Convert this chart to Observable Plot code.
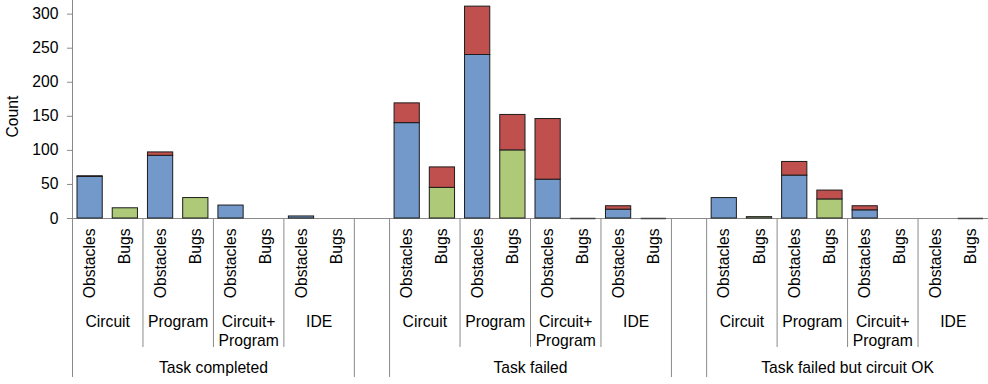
<!DOCTYPE html>
<html><head><meta charset="utf-8">
<script src="https://cdn.jsdelivr.net/npm/d3@7"></script>
<script src="https://cdn.jsdelivr.net/npm/@observablehq/plot@0.6"></script>
<style>
html,body{margin:0;padding:0;background:#fff;}
#chart svg{display:block;}
</style></head><body><div id="chart"></div>
<script>
// ---- data ----
const groups = ["Task completed", "Task failed", "Task failed but circuit OK"];
const areas = ["Circuit", "Program", "Circuit+\nProgram", "IDE"];
const kinds = ["Obstacles", "Bugs"];
const yTicks = [0, 50, 100, 150, 200, 250, 300];
// values per group, in area order [Circuit, Program, Circuit+Program, IDE]; null = no bar
const obstaclesBase = [[61, 92, 19, 3], [140, 240, 57, 13], [30, 63, 12, null]];   // blue part
const obstaclesTop  = [[1, 5, 0, 0],    [29, 71, 89, 5],    [0, 20, 6, null]];     // red part
const bugsBase      = [[15, 30, null, null], [45, 100, 0, 0], [2, 28, null, 0]];   // green part
const bugsTop       = [[0, 0, null, null],   [30, 52, 0, 0],  [0, 13, null, 0]];   // red part

const colors = {Obstacles: "#7299CA", Bugs: "#AECA79", top: "#C0504D"};
const gray = "#8a8a8a";
const fs = 15.7;

// ---- derived tables ----
const slotsPerGroup = areas.length * kinds.length + 1; // +1 gap slot
const nSlots = groups.length * slotsPerGroup - 1;
const bars = [], zeros = [], kindLabels = [], areaLabels = [], groupLabels = [];
const shortSeps = [], longSeps = [0];
groups.forEach((g, gi) => {
  const start = gi * slotsPerGroup;
  groupLabels.push({c: start + areas.length, label: g});
  if (gi > 0) longSeps.push(start - 1, start);
  areas.forEach((a, ai) => {
    const aStart = start + ai * kinds.length;
    areaLabels.push({c: aStart + 1, label: a});
    if (ai > 0) shortSeps.push(aStart);
    kinds.forEach((k, ki) => {
      const slot = aStart + ki;
      kindLabels.push({c: slot + 0.5, label: k});
      const base = (k === "Obstacles" ? obstaclesBase : bugsBase)[gi][ai];
      const top = (k === "Obstacles" ? obstaclesTop : bugsTop)[gi][ai];
      if (base == null) return;
      if (base === 0 && !top) { zeros.push({x1: slot, x2: slot + 1}); return; }
      if (base > 0) bars.push({x1: slot, x2: slot + 1, y1: 0, y2: base, color: colors[k]});
      if (top > 0) bars.push({x1: slot, x2: slot + 1, y1: base, y2: base + top, color: colors.top});
    });
  });
});

const chart = Plot.plot({
  width: 988, height: 384,
  marginLeft: 72, marginRight: 0, marginTop: 0, marginBottom: 166,
  style: {fontFamily: "'Liberation Sans', Arial, sans-serif", fontSize: fs + "px", color: "#000", background: "#fff"},
  x: {type: "linear", domain: [0, nSlots], axis: null},
  y: {domain: [0, 320], axis: null},
  marks: [
    Plot.axisY(yTicks, {tickSize: 5, tickPadding: 9, stroke: gray, fill: "#000", label: null, fontSize: fs}),
    Plot.ruleX([0], {stroke: gray, insetBottom: -159}),
    Plot.ruleX(longSeps.filter(d => d > 0), {x: d => d, y1: 0, y2: 0, stroke: gray, insetBottom: -159}),
    Plot.ruleX(shortSeps, {x: d => d, y1: 0, y2: 0, stroke: gray, insetBottom: -129}),
    Plot.ruleY([0], {stroke: gray}),
    Plot.rect(bars, {x1: "x1", x2: "x2", y1: "y1", y2: "y2", fill: "color", stroke: "#1c1c1c", strokeWidth: 1, insetLeft: 5, insetRight: 5}),
    Plot.ruleY(zeros, {x1: "x1", x2: "x2", y: 0, stroke: "#444", strokeWidth: 1.5, insetLeft: 5, insetRight: 5}),
    Plot.text(kindLabels, {x: "c", text: "label", frameAnchor: "bottom", rotate: -90, textAnchor: "end", lineAnchor: "middle", dy: 10, fontSize: fs}),
    Plot.text(areaLabels, {x: "c", text: "label", frameAnchor: "bottom", lineAnchor: "top", lineHeight: 1.2, dy: 95, fontSize: fs}),
    Plot.text(groupLabels, {x: "c", text: "label", frameAnchor: "bottom", lineAnchor: "top", dy: 143, fontSize: fs}),
    Plot.text(["Count"], {frameAnchor: "left", rotate: -90, lineAnchor: "middle", dx: -60, dy: 28, fontSize: fs})
  ]
});
document.getElementById("chart").append(chart);
</script>
</body></html>
